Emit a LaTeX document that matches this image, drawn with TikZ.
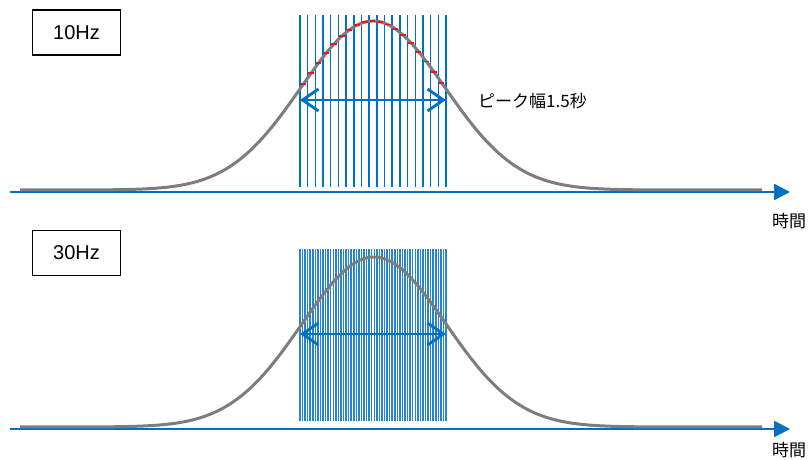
\documentclass[tikz,border=0pt]{standalone}
\usepackage{fontspec}
\setmainfont{Liberation Sans}
\newfontfamily\jpfont{Noto Sans CJK JP}
\usetikzlibrary{arrows.meta}
\definecolor{axblue}{RGB}{0,112,192}
\definecolor{curvegray}{RGB}{125,125,125}
\definecolor{markred}{RGB}{240,20,20}
\tikzset{
  hzbox/.style={draw=black, line width=1.7pt, minimum width=88pt, minimum height=45pt, inner sep=0pt, font=\fontsize{20pt}{22pt}\selectfont},
  axisline/.style={draw=axblue, line width=2.6pt, -{Triangle[length=16pt,width=16pt]}},
  sampleline/.style={draw=axblue, line width=1.5pt},
  denseline/.style={draw=axblue!85, line width=1.5pt},
  gausscurve/.style={draw=curvegray, line width=3pt, line join=round},
  widtharrow/.style={draw=axblue, line width=2.8pt, {Straight Barb[length=16pt,width=22pt]}-{Straight Barb[length=16pt,width=22pt]}},
  redmark/.style={draw=markred, line width=1.8pt},
  jplabel/.style={font=\jpfont\fontsize{17pt}{19pt}\selectfont, inner sep=0pt},
}
\begin{document}
\begin{tikzpicture}[x=1pt, y=-1pt]
\useasboundingbox (0,0) rectangle (812,460);
\pgfmathdeclarefunction{gtop}{1}{\pgfmathparse{190-169*exp(-0.5*((#1-373)/72)^2)}}
\pgfmathdeclarefunction{gbot}{1}{\pgfmathparse{427-170*exp(-0.5*((#1-374)/72)^2)}}

% ---------- top panel (10Hz) ----------
\node[hzbox] (b10) at (76.5,32.5) {10Hz};
\coordinate (ax1s) at (10,192);
\coordinate (ax1e) at (790,192);
\draw[axisline] (ax1s) -- (ax1e);
\foreach \i in {0,...,19} {
  \draw[sampleline] ({300+\i*146/19},15) -- ({300+\i*146/19},187);
}
\draw[gausscurve] plot[domain=20:762, samples=240, smooth] (\x,{gtop(\x)});
\foreach \i in {0,...,18} {
  \pgfmathsetmacro{\xx}{300+\i*146/19+3.3}
  \pgfmathsetmacro{\yy}{gtop(\xx)}
  \draw[redmark] (\xx-2.8,\yy) -- (\xx+2.8,\yy);
}
\coordinate (a1l) at (300,100);
\coordinate (a1r) at (446,100);
\draw[widtharrow] (a1l) -- (a1r);
\node[jplabel, anchor=west] (peak) at (478,101) {ピーク幅1.5秒};
\node[jplabel] (t1) at (789,221) {時間};

% ---------- bottom panel (30Hz) ----------
\node[hzbox] (b30) at (76.5,253) {30Hz};
\coordinate (ax2s) at (10,429);
\coordinate (ax2e) at (790,429);
\draw[axisline] (ax2s) -- (ax2e);
\foreach \i in {0,...,57} {
  \draw[denseline] ({300+\i*146/57},249) -- ({300+\i*146/57},421);
}
\draw[gausscurve] plot[domain=20:762, samples=240, smooth] (\x,{gbot(\x)});
\coordinate (a2l) at (300,334);
\coordinate (a2r) at (446,334);
\draw[widtharrow] (a2l) -- (a2r);
\node[jplabel] (t2) at (789,450) {時間};
\end{tikzpicture}
\end{document}
